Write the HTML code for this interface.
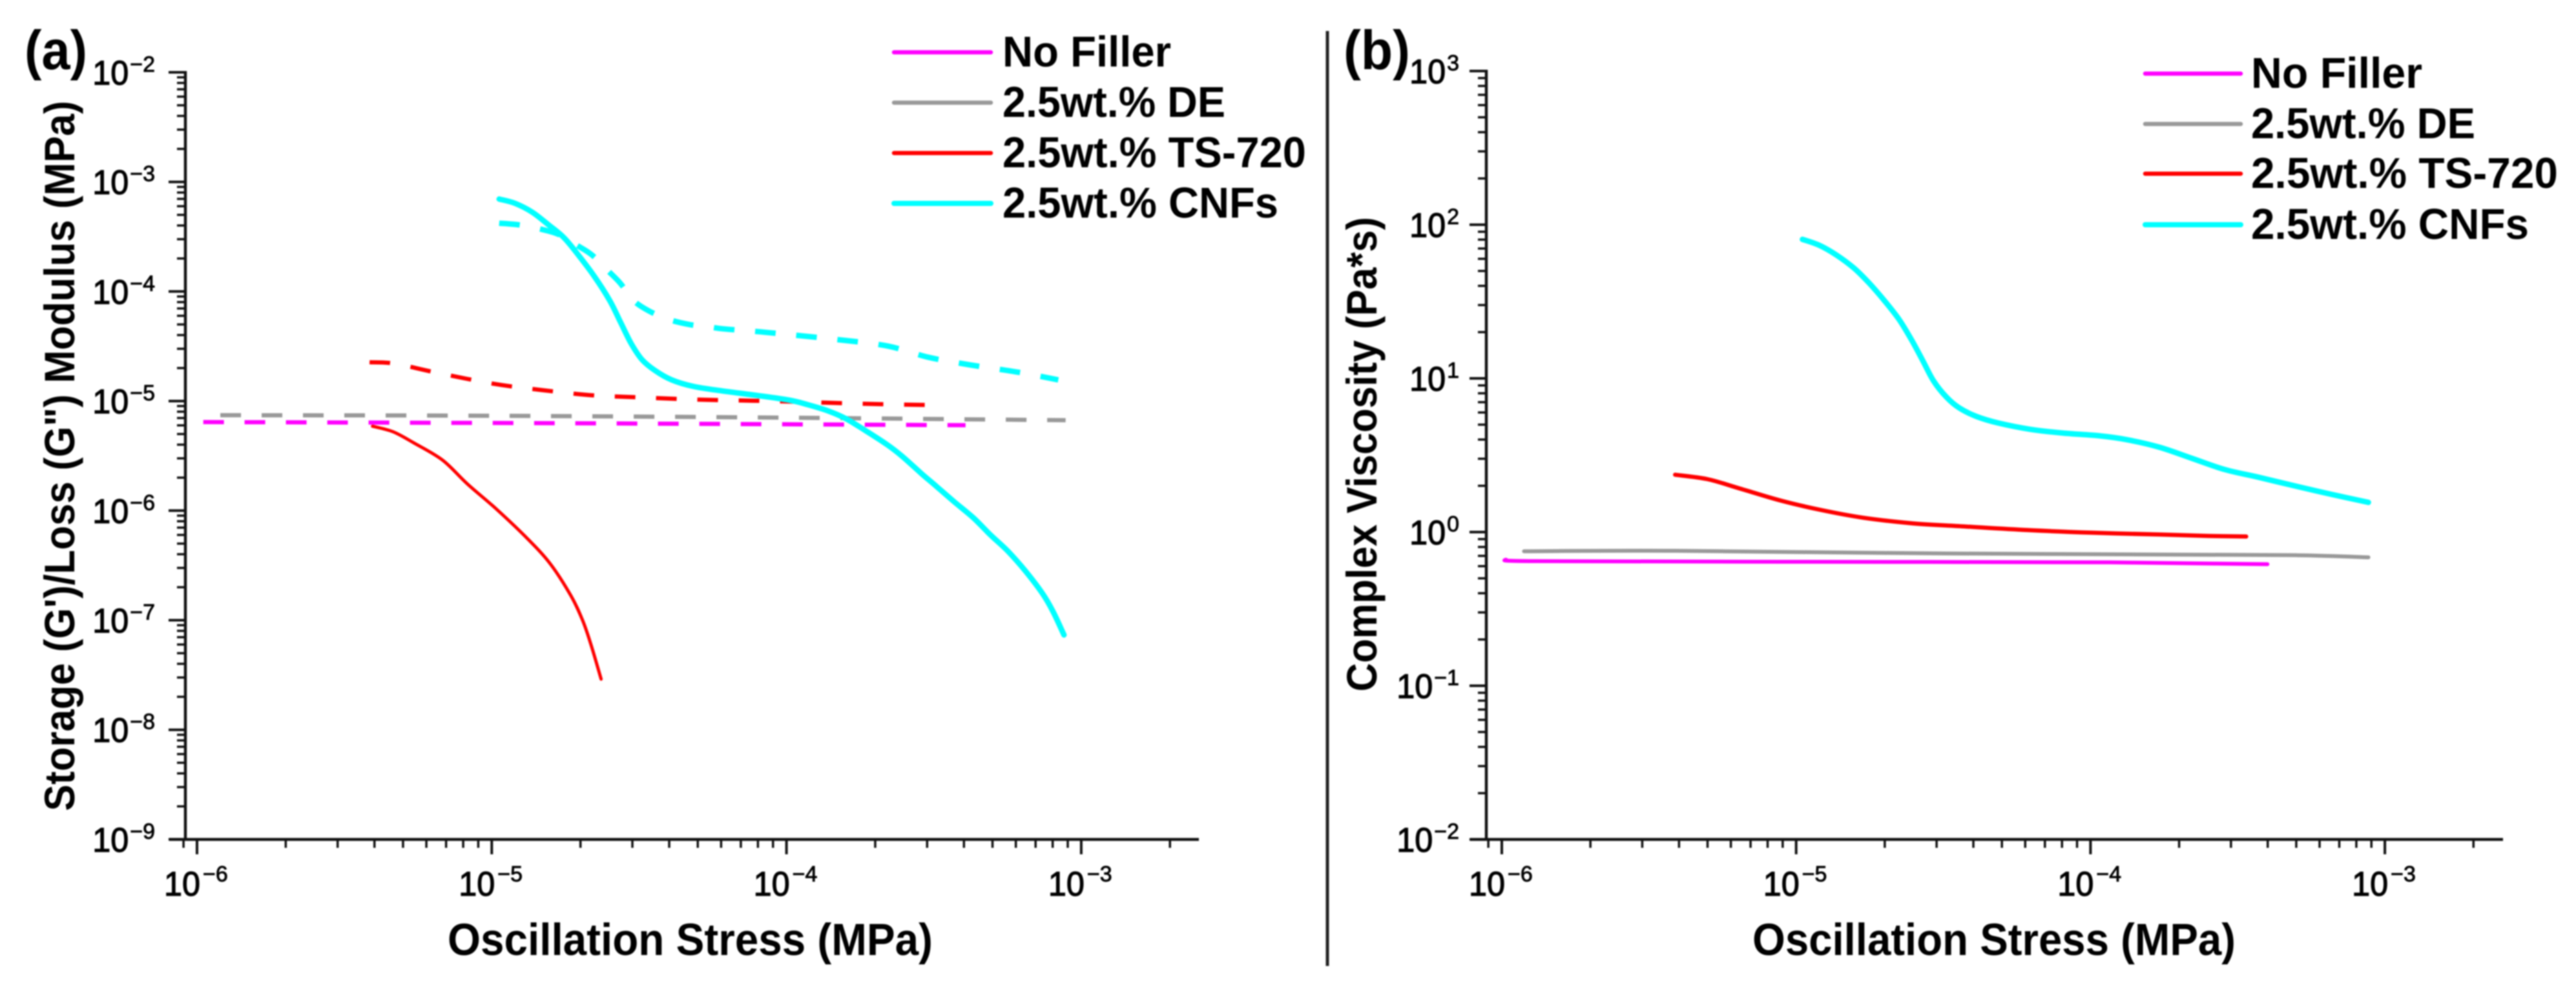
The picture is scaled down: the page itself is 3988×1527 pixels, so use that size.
<!DOCTYPE html>
<html lang="en">
<head>
<meta charset="utf-8">
<title>Storage/Loss Modulus and Complex Viscosity vs Oscillation Stress</title>
<style>
  html, body { margin: 0; padding: 0; background: #fff; }
  body { width: 3988px; height: 1527px; overflow: hidden; }
  svg { display: block; filter: blur(1px); }
  text { font-family: "Liberation Sans", Arial, sans-serif; fill: #000; }
  .bold { font-weight: 700; }
</style>
</head>
<body>
<svg id="figure" xmlns="http://www.w3.org/2000/svg" width="3988" height="1527" viewBox="0 0 3988 1527">
  <rect x="0" y="0" width="3988" height="1527" fill="#fff"/>
  <line x1="2055" y1="48" x2="2055" y2="1496" stroke="#222" stroke-width="5"/>

  <text class="bold" x="38" y="107" font-size="85" textLength="97" lengthAdjust="spacingAndGlyphs">(a)</text>
  <text class="bold" x="2080" y="107" font-size="85" textLength="103" lengthAdjust="spacingAndGlyphs">(b)</text>

  <text class="bold" transform="translate(115,1256) rotate(-90)" font-size="66" textLength="1100" lengthAdjust="spacingAndGlyphs">Storage (G')/Loss (G") Modulus (MPa)</text>
  <text class="bold" transform="translate(2131,1071) rotate(-90)" font-size="66" textLength="735" lengthAdjust="spacingAndGlyphs">Complex Viscosity (Pa*s)</text>
  <text class="bold" x="693" y="1479" font-size="70" textLength="751" lengthAdjust="spacingAndGlyphs">Oscillation Stress (MPa)</text>
  <text class="bold" x="2713" y="1479" font-size="70" textLength="748" lengthAdjust="spacingAndGlyphs">Oscillation Stress (MPa)</text>

  <g id="panel-a"></g>
  <g id="panel-b"></g>
</svg>

<script>
// ---------- Tick labels ----------
var xTickExponents = ["-6", "-5", "-4", "-3"];
var modulusTickExponents = ["-2", "-3", "-4", "-5", "-6", "-7", "-8", "-9"];
var viscosityTickExponents = ["3", "2", "1", "0", "-1", "-2"];

// ---------- Legend ----------
var legendLabels = ["No Filler", "2.5wt.% DE", "2.5wt.% TS-720", "2.5wt.% CNFs"];
var legendColors = ["#ff00ff", "#999999", "#ff0000", "#00ffff"];

// ---------- Panel (a): stress (MPa) vs modulus (MPa) ----------
var aNoFillerLossX = [1.05e-6, 1.87e-5, 4.05e-4];
var aNoFillerLossY = [6.43e-6, 6.27e-6, 6.02e-6];
var aDeLossX = [1.2e-6, 1.01e-5, 1.02e-4, 8.85e-4];
var aDeLossY = [7.43e-6, 7.34e-6, 7.05e-6, 6.68e-6];
var aTsStorageX = [3.94e-6, 4.62e-6, 5.43e-6, 6.81e-6, 8.25e-6, 1.03e-5, 1.29e-5, 1.57e-5, 1.85e-5, 2.03e-5, 2.17e-5, 2.35e-5];
var aTsStorageY = [5.89e-6, 5.25e-6, 4.16e-6, 2.89e-6, 1.76e-6, 1.05e-6, 5.92e-7, 3.34e-7, 1.70e-7, 1.01e-7, 6.01e-8, 2.90e-8];
var aTsLossX = [3.85e-6, 4.67e-6, 6.42e-6, 1.01e-5, 1.48e-5, 2.18e-5, 3.20e-5, 5.03e-5, 9.53e-5, 1.81e-4, 3.03e-4];
var aTsLossY = [2.26e-5, 2.2e-5, 1.83e-5, 1.44e-5, 1.26e-5, 1.13e-5, 1.08e-5, 1.03e-5, 9.95e-6, 9.44e-6, 9.2e-6];
var aCnfStorageX = [1.06e-5, 1.20e-5, 1.37e-5, 1.56e-5, 1.76e-5, 1.98e-5, 2.23e-5, 2.51e-5, 2.73e-5, 2.97e-5, 3.23e-5, 3.57e-5, 4.08e-5, 4.83e-5, 6.01e-5, 7.85e-5, 1.02e-4, 1.18e-4, 1.39e-4, 1.59e-4, 1.85e-4, 2.19e-4, 2.47e-4, 2.87e-4, 3.23e-4, 3.70e-4, 4.30e-4, 4.92e-4, 5.63e-4, 6.44e-4, 7.37e-4, 8.01e-4, 8.74e-4];
var aCnfStorageY = [6.97e-4, 6.37e-4, 5.31e-4, 4.05e-4, 3.09e-4, 2.10e-4, 1.37e-4, 8.32e-5, 5.29e-5, 3.36e-5, 2.40e-5, 1.91e-5, 1.56e-5, 1.36e-5, 1.24e-5, 1.13e-5, 1.02e-5, 9.27e-6, 8.09e-6, 6.91e-6, 5.39e-6, 4.02e-6, 3.13e-6, 2.18e-6, 1.66e-6, 1.21e-6, 8.62e-7, 6.01e-7, 4.28e-7, 2.85e-7, 1.77e-7, 1.21e-7, 7.34e-8];
var aCnfLossX = [1.06e-5, 1.24e-5, 1.45e-5, 1.69e-5, 1.95e-5, 2.19e-5, 2.49e-5, 2.73e-5, 3.02e-5, 3.42e-5, 4.01e-5, 4.71e-5, 5.53e-5, 6.11e-5, 7.87e-5, 1.02e-4, 1.50e-4, 2.20e-4, 3.03e-4, 4.18e-4, 6.14e-4, 8.36e-4];
var aCnfLossY = [4.20e-4, 4.05e-4, 3.73e-4, 3.31e-4, 2.63e-4, 2.15e-4, 1.53e-4, 1.19e-4, 8.32e-5, 6.63e-5, 5.53e-5, 4.98e-5, 4.72e-5, 4.56e-5, 4.32e-5, 4.04e-5, 3.63e-5, 3.18e-5, 2.51e-5, 2.14e-5, 1.83e-5, 1.56e-5];

// ---------- Panel (b): stress (MPa) vs complex viscosity (Pa*s) ----------
var bNoFillerX = [1.03e-6, 1.29e-6, 8.89e-6, 1.16e-4, 3.99e-4];
var bNoFillerY = [0.661, 0.647, 0.641, 0.635, 0.618];
var bDeX = [1.19e-6, 3.86e-6, 3.21e-5, 3.05e-4, 5.43e-4, 8.79e-4];
var bDeY = [0.75, 0.755, 0.726, 0.711, 0.705, 0.685];
var bTsX = [3.88e-6, 4.99e-6, 6.44e-6, 8.89e-6, 1.22e-5, 1.69e-5, 2.48e-5, 3.66e-5, 6.11e-5, 1.02e-4, 1.71e-4, 2.51e-4, 3.38e-4];
var bTsY = [2.36, 2.21, 1.92, 1.60, 1.39, 1.24, 1.14, 1.09, 1.03, 0.99, 0.964, 0.944, 0.935];
var bCnfX = [1.05e-5, 1.20e-5, 1.37e-5, 1.57e-5, 1.77e-5, 1.99e-5, 2.24e-5, 2.47e-5, 2.69e-5, 2.93e-5, 3.24e-5, 3.58e-5, 4.10e-5, 4.85e-5, 6.25e-5, 8.04e-5, 1.07e-4, 1.32e-4, 1.71e-4, 2.21e-4, 2.86e-4, 3.70e-4, 5.09e-4, 6.59e-4, 8.79e-4];
var bCnfY = [80.3, 73.4, 63.5, 52.3, 41.7, 32.2, 24.1, 17.7, 13.1, 9.62, 7.55, 6.43, 5.65, 5.13, 4.66, 4.41, 4.23, 4.0, 3.57, 3.02, 2.55, 2.28, 1.97, 1.76, 1.56];

var SVG_NS = "http://www.w3.org/2000/svg";

function xAxisFn(decadeOrigin, decadeWidth) {
  return function (v) { return decadeOrigin + (Math.log10(v) + 6) * decadeWidth; };
}
function yAxisFn(topExp, topPx, decadeHeight) {
  return function (v) { return topPx + (topExp - Math.log10(v)) * decadeHeight; };
}

function makeLine(parent, x1, y1, x2, y2, width, color) {
  var el = document.createElementNS(SVG_NS, "line");
  el.setAttribute("x1", x1);
  el.setAttribute("y1", y1);
  el.setAttribute("x2", x2);
  el.setAttribute("y2", y2);
  el.setAttribute("stroke", color);
  el.setAttribute("stroke-width", width);
  parent.appendChild(el);
  return el;
}

function makeText(parent, x, y, size, content, strokeW) {
  var el = document.createElementNS(SVG_NS, "text");
  el.setAttribute("x", x);
  el.setAttribute("y", y);
  el.setAttribute("font-size", size);
  el.setAttribute("stroke", "#000");
  el.setAttribute("stroke-width", strokeW);
  el.textContent = content;
  parent.appendChild(el);
  return el;
}

function prettyExponent(e) { return e.replace("-", "\u2212"); }

function smoothPath(xs, ys, X, Y) {
  var pts = xs.map(function (v, i) { return [X(v), Y(ys[i])]; });
  var d = "M" + pts[0][0].toFixed(1) + " " + pts[0][1].toFixed(1);
  for (var i = 0; i < pts.length - 1; i++) {
    var p0 = pts[Math.max(0, i - 1)], p1 = pts[i], p2 = pts[i + 1], p3 = pts[Math.min(pts.length - 1, i + 2)];
    var c1x = p1[0] + (p2[0] - p0[0]) / 6, c1y = p1[1] + (p2[1] - p0[1]) / 6;
    var c2x = p2[0] - (p3[0] - p1[0]) / 6, c2y = p2[1] - (p3[1] - p1[1]) / 6;
    d += "C" + c1x.toFixed(1) + " " + c1y.toFixed(1) + " " + c2x.toFixed(1) + " " + c2y.toFixed(1) + " " + p2[0].toFixed(1) + " " + p2[1].toFixed(1);
  }
  return d;
}

function drawSeries(parent, name, xs, ys, X, Y, color, width, dashed) {
  var path = document.createElementNS(SVG_NS, "path");
  
  
  path.setAttribute("d", smoothPath(xs, ys, X, Y));
  path.setAttribute("fill", "none");
  path.setAttribute("stroke", color);
  path.setAttribute("stroke-width", width);
  path.setAttribute("stroke-linejoin", "round");
  if (dashed) {
    path.setAttribute("stroke-dasharray", "32 32");
  } else {
    path.setAttribute("stroke-linecap", "round");
  }
  parent.appendChild(path);
}

function drawAxes(parent, prefix, X, Y, axisX, axisY, rightPx, topPx, yExps, labelRight) {
  var axes = document.createElementNS(SVG_NS, "g");
  
  
  parent.appendChild(axes);

  var yLine = makeLine(axes, axisX, topPx - 2, axisX, axisY + 2, 4.5, "#111");
  
  
  var xLine = makeLine(axes, axisX - 25, axisY, rightPx, axisY, 4.5, "#111");
  
  

  // y ticks
  yExps.forEach(function (e, idx) {
    var p = Math.pow(10, Number(e));
    var py = Y(p);
    var tick = makeLine(axes, axisX - 26, py, axisX, py, 4, "#111");
    
    

    var sup = makeText(axes, labelRight, py - 1, 34, prettyExponent(e), 0.9);
    sup.setAttribute("text-anchor", "end");
    
    
    var supW = sup.getComputedTextLength();
    var base = makeText(axes, labelRight - supW - 58, py + 19, 53, "10", 1.3);
    base.setAttribute("textLength", "56");
    base.setAttribute("lengthAdjust", "spacingAndGlyphs");
    
    

    if (idx < yExps.length - 1) {
      for (var m = 2; m <= 9; m++) {
        var minor = makeLine(axes, axisX - 13, Y(p / 10 * m), axisX, Y(p / 10 * m), 3.5, "#111");
        
        
      }
    }
  });

  // x ticks
  xTickExponents.forEach(function (e) {
    var p = Math.pow(10, Number(e));
    var px = X(p);
    var tick = makeLine(axes, px, axisY, px, axisY + 23, 4, "#111");
    
    

    var base = makeText(axes, px - 51, axisY + 87, 53, "10", 1.3);
    base.setAttribute("textLength", "56");
    base.setAttribute("lengthAdjust", "spacingAndGlyphs");
    
    
    var sup = makeText(axes, px + 9, axisY + 65, 34, prettyExponent(e), 0.9);
    
    

    for (var m = 2; m <= 9; m++) {
      if (p * m > 2.1e-3) continue;
      var mx = X(p * m);
      var minor = makeLine(axes, mx, axisY, mx, axisY + 13, 3.5, "#111");
      
      
    }
  });
  var first = makeLine(axes, X(9e-7), axisY, X(9e-7), axisY + 13, 3.5, "#111");
  
  
}

function drawLegend(parent, prefix, lineStart, lineEnd, textX, rows, widths) {
  var legend = document.createElementNS(SVG_NS, "g");
  
  
  parent.appendChild(legend);
  legendLabels.forEach(function (label, i) {
    var swatch = makeLine(legend, lineStart, rows[i], lineEnd, rows[i], i === 3 ? 8 : 6.5, legendColors[i]);
    swatch.setAttribute("stroke-linecap", "round");
    
    
    var t = document.createElementNS(SVG_NS, "text");
    t.setAttribute("x", textX);
    t.setAttribute("y", rows[i] + 22);
    t.setAttribute("font-size", "67");
    t.setAttribute("font-weight", "700");
    t.setAttribute("textLength", widths[i]);
    t.setAttribute("lengthAdjust", "spacingAndGlyphs");
    
    
    t.textContent = label;
    legend.appendChild(t);
  });
}

// ---------- Panel (a) ----------
var panelA = document.getElementById("panel-a");
var ax = xAxisFn(305, 456.3);
var ay = yAxisFn(-2, 112, 169.7);
drawAxes(panelA, "panel-a", ax, ay, 287, 1300, 1856, 112, modulusTickExponents, 240);
drawSeries(panelA, "no-filler-loss-modulus-line", aNoFillerLossX, aNoFillerLossY, ax, ay, "#ff00ff", 6.5, true);
drawSeries(panelA, "de-loss-modulus-line", aDeLossX, aDeLossY, ax, ay, "#999999", 6.5, true);
drawSeries(panelA, "ts720-loss-modulus-line", aTsLossX, aTsLossY, ax, ay, "#ff0000", 6.5, true);
drawSeries(panelA, "ts720-storage-modulus-line", aTsStorageX, aTsStorageY, ax, ay, "#ff0000", 5, false);
drawSeries(panelA, "cnf-loss-modulus-line", aCnfLossX, aCnfLossY, ax, ay, "#00ffff", 8.5, true);
drawSeries(panelA, "cnf-storage-modulus-line", aCnfStorageX, aCnfStorageY, ax, ay, "#00ffff", 8.5, false);
drawLegend(panelA, "panel-a", 1384, 1534, 1552, [81, 159, 237, 315], [261, 345, 470, 427]);

// ---------- Panel (b) ----------
var panelB = document.getElementById("panel-b");
var bx = xAxisFn(2325, 455.7);
var by = yAxisFn(3, 110, 238);
drawAxes(panelB, "panel-b", bx, by, 2301, 1300, 3875, 110, viscosityTickExponents, 2259);
drawSeries(panelB, "no-filler-viscosity-line", bNoFillerX, bNoFillerY, bx, by, "#ff00ff", 6, false);
drawSeries(panelB, "de-viscosity-line", bDeX, bDeY, bx, by, "#999999", 6, false);
drawSeries(panelB, "ts720-viscosity-line", bTsX, bTsY, bx, by, "#ff0000", 6.5, false);
drawSeries(panelB, "cnf-viscosity-line", bCnfX, bCnfY, bx, by, "#00ffff", 8.5, false);
drawLegend(panelB, "panel-b", 3321, 3469, 3485, [114, 192, 269, 348], [265, 347, 475, 430]);
</script>
</body>
</html>
